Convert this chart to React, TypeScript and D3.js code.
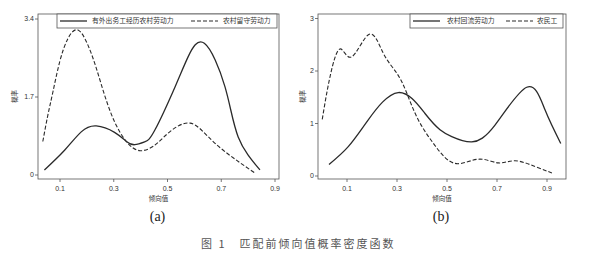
import React from "react";
import * as d3 from "d3";

// ---- Data ----
const xTicks = [0.1, 0.3, 0.5, 0.7, 0.9];
const aYTicks = [0, 1.7, 3.4];
const bYTicks = [0, 1, 2, 3];

const aSolidX = [0.042, 0.117, 0.179, 0.235, 0.303, 0.347, 0.378, 0.415, 0.453, 0.528, 0.577, 0.637, 0.714, 0.763, 0.844];
const aSolidY = [0.11, 0.54, 0.94, 1.07, 0.93, 0.73, 0.66, 0.72, 0.98, 1.92, 2.58, 2.87, 1.92, 0.83, 0.11];
const aDashX = [0.036, 0.055, 0.074, 0.099, 0.13, 0.167, 0.204, 0.235, 0.266, 0.303, 0.347, 0.398, 0.453, 0.5, 0.584, 0.677, 0.826];
const aDashY = [0.73, 1.31, 1.82, 2.47, 2.98, 3.16, 2.83, 2.33, 1.74, 1.16, 0.73, 0.53, 0.65, 0.9, 1.13, 0.69, 0.04];

const bSolidX = [0.028, 0.105, 0.185, 0.305, 0.412, 0.472, 0.519, 0.599, 0.692, 0.819, 0.892, 0.955];
const bSolidY = [0.22, 0.56, 1.07, 1.59, 1.19, 0.88, 0.75, 0.65, 0.97, 1.69, 1.26, 0.62];
const bDashX = [0.001, 0.032, 0.072, 0.119, 0.189, 0.245, 0.299, 0.339, 0.385, 0.452, 0.532, 0.625, 0.705, 0.772, 0.852, 0.925];
const bDashY = [1.08, 1.89, 2.42, 2.27, 2.7, 2.34, 1.96, 1.58, 1.07, 0.58, 0.24, 0.32, 0.25, 0.29, 0.18, 0.05];

const aLegend = ["有外出务工经历农村劳动力", "农村留守劳动力"];
const bLegend = ["农村回流劳动力", "农民工"];
const yTitle = "概率";
const xTitle = "倾向值";
const caption = "图 1　匹配前倾向值概率密度函数";

const CJK = "'Noto Sans CJK SC', sans-serif";
const SANS = "'Liberation Sans', Arial, sans-serif";
const LINE = "#2a2a2a";
const AXIS = "#555";

type PanelProps = {
  box: { l: number; r: number; t: number; b: number };
  x: d3.ScaleLinear<number, number>;
  y: d3.ScaleLinear<number, number>;
  yTicks: number[];
  solid: [number[], number[]];
  dash: [number[], number[]];
  legend: string[];
  legendBox: { l: number; r: number; s1: number; t1: number; s2: number; t2: number };
  label: string;
  yTitleX: number;
};

function Panel({ box, x, y, yTicks, solid, dash, legend, legendBox, label, yTitleX }: PanelProps) {
  const line = d3
    .line<[number, number]>()
    .x((d) => x(d[0]))
    .y((d) => y(d[1]))
    .curve(d3.curveNatural);
  const sPts = solid[0].map((v, i) => [v, solid[1][i]] as [number, number]);
  const dPts = dash[0].map((v, i) => [v, dash[1][i]] as [number, number]);
  const midX = (box.l + box.r) / 2;
  const lgY = 21;
  return (
    <g>
      <rect x={box.l} y={box.t} width={box.r - box.l} height={box.b - box.t} fill="none" stroke={AXIS} strokeWidth={0.8} />
      {yTicks.map((t) => (
        <g key={"y" + t}>
          <line x1={box.l - 3} x2={box.l} y1={y(t)} y2={y(t)} stroke={AXIS} strokeWidth={0.8} />
          <text x={box.l - 4} y={y(t)} dy="0.35em" textAnchor="end" fontFamily={SANS} fontSize={7} fill="#333">
            {String(t)}
          </text>
        </g>
      ))}
      {xTicks.map((t) => (
        <g key={"x" + t}>
          <line x1={x(t)} x2={x(t)} y1={box.b} y2={box.b + 3} stroke={AXIS} strokeWidth={0.8} />
          <text x={x(t)} y={box.b + 12} textAnchor="middle" fontFamily={SANS} fontSize={7} fill="#333">
            {String(t)}
          </text>
        </g>
      ))}
      <text x={midX} y={box.b + 22} textAnchor="middle" fontFamily={CJK} fontSize={6.5} fill="#333">
        {xTitle}
      </text>
      <text
        transform={`translate(${yTitleX},${(box.t + box.b) / 2}) rotate(-90)`}
        textAnchor="middle"
        fontFamily={CJK}
        fontSize={6.5}
        fill="#333"
      >
        {yTitle}
      </text>
      <path d={line(sPts) || ""} fill="none" stroke={LINE} strokeWidth={1.3} />
      <path d={line(dPts) || ""} fill="none" stroke={LINE} strokeWidth={1.1} strokeDasharray="4,2" />
      <rect x={legendBox.l} y={box.t} width={legendBox.r - legendBox.l} height={14} fill="#fff" stroke={AXIS} strokeWidth={0.8} />
      <line x1={legendBox.s1} x2={legendBox.s1 + 27} y1={lgY} y2={lgY} stroke={LINE} strokeWidth={1.3} />
      <text x={legendBox.t1} y={lgY} dy="0.35em" fontFamily={CJK} fontSize={6.8} fill="#333">
        {legend[0]}
      </text>
      <line x1={legendBox.s2} x2={legendBox.s2 + 27} y1={lgY} y2={lgY} stroke={LINE} strokeWidth={1.1} strokeDasharray="4,2" />
      <text x={legendBox.t2} y={lgY} dy="0.35em" fontFamily={CJK} fontSize={6.8} fill="#333">
        {legend[1]}
      </text>
      <text x={midX - 1} y={221} textAnchor="middle" fontFamily="'Liberation Serif', serif" fontSize={14} fill="#222">
        {label}
      </text>
    </g>
  );
}

export default function App() {
  const ax = d3.scaleLinear().domain([0.1, 0.9]).range([60, 275]);
  const ay = d3.scaleLinear().domain([0, 3.4]).range([175, 19]);
  const bx = d3.scaleLinear().domain([0.1, 0.9]).range([347, 547]);
  const by = d3.scaleLinear().domain([0, 3]).range([176, 18.5]);
  return (
    <svg width={600} height={259} style={{ position: "absolute", left: 0, top: 0, background: "#fff" }}>
      <rect x={0} y={0} width={600} height={259} fill="#fff" />
      <Panel
        box={{ l: 38, r: 279, t: 14, b: 179 }}
        x={ax}
        y={ay}
        yTicks={aYTicks}
        solid={[aSolidX, aSolidY]}
        dash={[aDashX, aDashY]}
        legend={aLegend}
        legendBox={{ l: 57, r: 277, s1: 60, t1: 92, s2: 191, t2: 223 }}
        label="(a)"
        yTitleX={17}
      />
      <Panel
        box={{ l: 318, r: 566, t: 14, b: 179 }}
        x={bx}
        y={by}
        yTicks={bYTicks}
        solid={[bSolidX, bSolidY]}
        dash={[bDashX, bDashY]}
        legend={bLegend}
        legendBox={{ l: 410, r: 563, s1: 413, t1: 447, s2: 506, t2: 537 }}
        label="(b)"
        yTitleX={305}
      />
      <text x={201} y={248} fontFamily={CJK} fontSize={11} fill="#555" letterSpacing={2}>
        {caption}
      </text>
    </svg>
  );
}
